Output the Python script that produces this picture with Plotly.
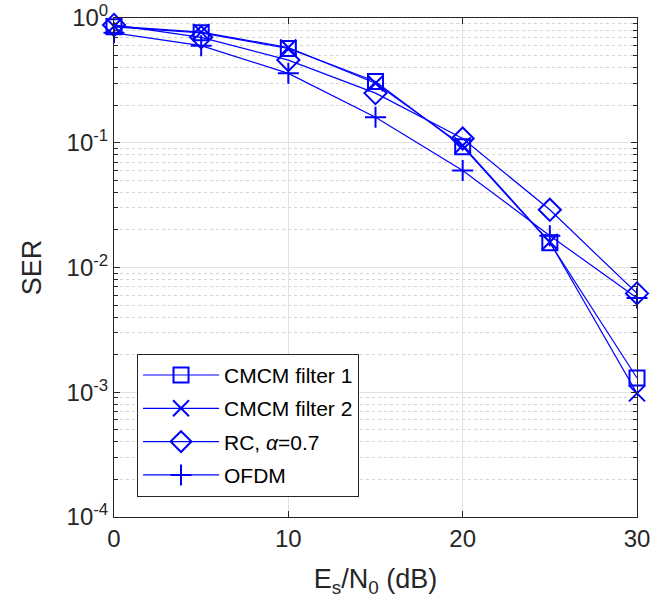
import plotly.graph_objects as go

snr_db = [0, 5, 10, 15, 20, 25, 30]
ser_cmcm1 = [0.85, 0.76, 0.57, 0.31, 0.093, 0.0158, 0.0013]
ser_cmcm2 = [0.86, 0.77, 0.58, 0.30, 0.095, 0.016, 0.00098]
ser_rc = [0.88, 0.70, 0.46, 0.25, 0.108, 0.029, 0.0062]
ser_ofdm = [0.76, 0.60, 0.36, 0.16, 0.060, 0.018, 0.0057]

series_names = ["CMCM filter 1", "CMCM filter 2", "RC, <i>α</i>=0.7", "OFDM"]
series_symbols = ["square-open", "x-thin", "diamond-open", "cross-thin"]
series_sizes = [15, 16, 17, 15]
series_data = [ser_cmcm1, ser_cmcm2, ser_rc, ser_ofdm]

y_tickvals = [1e-4, 1e-3, 1e-2, 1e-1, 1]
y_ticktext = ["10<sup>-4</sup>", "10<sup>-3</sup>", "10<sup>-2</sup>", "10<sup>-1</sup>", "10<sup>0</sup>"]
x_tickvals = [0, 10, 20, 30]

BLUE = "rgb(0,0,255)"
AX = "rgb(38,38,38)"
FONT = "Liberation Sans, Arial, sans-serif"

fig = go.Figure()
for i, (name, sym, sz, ys) in enumerate(zip(series_names, series_symbols, series_sizes, series_data)):
    fig.add_trace(go.Scatter(
        x=snr_db, y=ys, name=name, mode="lines+markers", legendgroup=f"g{i}",
        cliponaxis=False,
        line=dict(color=BLUE, width=1.2),
        marker=dict(symbol=sym, size=sz, color=BLUE,
                    line=dict(color=BLUE, width=2)),
    ))

fig.update_layout(
    width=652, height=612,
    margin=dict(l=114, r=15, t=18, b=95),
    paper_bgcolor="white", plot_bgcolor="white",
    font=dict(family=FONT, size=24, color=AX),
    showlegend=True,
    legend=dict(
        x=0.044, y=0.327, xanchor="left", yanchor="top",
        bgcolor="white", bordercolor=AX, borderwidth=1,
        font=dict(family=FONT, size=21, color="black"),
        tracegroupgap=3, itemwidth=76,
    ),
)

fig.update_xaxes(
    range=[0, 30], tickvals=x_tickvals, automargin=False,
    showline=True, linecolor=AX, linewidth=1, mirror="ticks",
    ticks="inside", ticklen=6, tickcolor=AX,
    showgrid=True, gridcolor="rgb(225,225,225)", gridwidth=1,
    zeroline=False,
    tickfont=dict(size=24, color=AX),
    title=dict(text="E<sub>s</sub>/N<sub>0</sub> (dB)", font=dict(size=27, color=AX), standoff=18),
)
fig.update_yaxes(
    type="log", range=[-4, 0], tickvals=y_tickvals, ticktext=y_ticktext, automargin=False,
    showline=True, linecolor=AX, linewidth=1, mirror="ticks",
    ticks="inside", ticklen=6, tickcolor=AX,
    showgrid=True, gridcolor="rgb(225,225,225)", gridwidth=1,
    zeroline=False,
    tickfont=dict(size=24, color=AX),
    title=dict(text="SER", font=dict(size=27, color=AX), standoff=17),
    minor=dict(dtick="D1", ticks="inside", ticklen=4, tickcolor=AX, showgrid=True,
               gridcolor="rgb(212,212,212)", griddash="dot", gridwidth=1),
)

fig.write_html("out.html")
